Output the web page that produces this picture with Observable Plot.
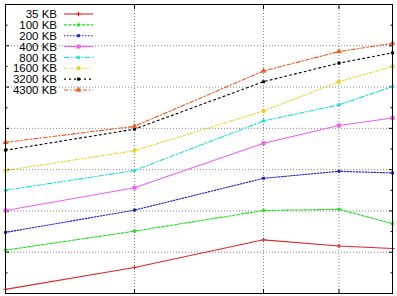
<!DOCTYPE html>
<html>
<head>
<meta charset="utf-8">
<script src="https://cdn.jsdelivr.net/npm/d3@7"></script>
<script src="https://cdn.jsdelivr.net/npm/@observablehq/plot@0.6"></script>
<style>
  html, body { margin: 0; padding: 0; background: #fff; }
  #wrap { position: relative; width: 397px; height: 296px; }
  #wrap svg { position: absolute; left: 0; top: 0; }
</style>
</head>
<body>
<div id="wrap"></div>
<script>
// x values (log scale)
const threads = [1, 2, 4, 6, 8];
const seriesNames = ["35 KB", "100 KB", "200 KB", "400 KB", "800 KB", "1600 KB", "3200 KB", "4300 KB"];
const s35   = [0.10, 0.63, 1.30, 1.15, 1.09];
const s100  = [1.05, 1.51, 2.01, 2.04, 1.69];
const s200  = [1.48, 2.02, 2.79, 2.96, 2.92];
const s400  = [2.01, 2.56, 3.64, 4.07, 4.25];
const s800  = [2.50, 2.98, 4.18, 4.57, 5.01];
const s1600 = [2.98, 3.46, 4.42, 5.13, 5.50];
const s3200 = [3.47, 3.98, 5.13, 5.58, 5.83];
const s4300 = [3.66, 4.05, 5.39, 5.86, 6.06];
const seriesValues = [s35, s100, s200, s400, s800, s1600, s3200, s4300];
const xGrid = [2, 4, 6];
const yGrid = [1, 2, 3, 4, 5, 6];
const yMinor = [0.5, 1.5, 2.5, 3.5, 4.5, 5.5, 6.5];

const styles = [
  {color: "#e02828", dash: null,        symbol: "plus",     r: 1.5},
  {color: "#22e022", dash: "3,1.5",     symbol: "square",   r: 1.5},
  {color: "#1c1cc8", dash: "1.5,1.5",   symbol: "square",   r: 1.5},
  {color: "#f060f0", dash: null,        symbol: "square",   r: 2.1},
  {color: "#20e0e0", dash: "5,2,1.5,2", symbol: "circle",   r: 1.6},
  {color: "#f0d020", dash: "2,2,1,2",   symbol: "circle",   r: 2.0},
  {color: "#000000", dash: "2,3",       symbol: "square",   r: 1.5},
  {color: "#f05a1e", dash: "4,2,1.5,2", symbol: "triangle", r: 2.0}
];

const rows = [];
seriesNames.forEach((name, i) => {
  threads.forEach((t, j) => rows.push({series: name, idx: i, x: t, y: seriesValues[i][j]}));
});

const noText = () => "";
const marks = [
  Plot.gridX(xGrid, {stroke: "#888", strokeOpacity: 1, strokeDasharray: "1,2"}),
  Plot.gridY(yGrid, {stroke: "#888", strokeOpacity: 1, strokeDasharray: "1,2"}),
  Plot.axisY(yGrid,  {anchor: "left",  tickSize: 4,   dx: 4,    tickFormat: noText, label: null, stroke: "#000"}),
  Plot.axisY(yGrid,  {anchor: "right", tickSize: 4,   dx: -4,   tickFormat: noText, label: null, stroke: "#000"}),
  Plot.axisY(yMinor, {anchor: "left",  tickSize: 2.5, dx: 2.5,  tickFormat: noText, label: null, stroke: "#000"}),
  Plot.axisY(yMinor, {anchor: "right", tickSize: 2.5, dx: -2.5, tickFormat: noText, label: null, stroke: "#000"}),
  Plot.axisX(xGrid,  {anchor: "bottom", tickSize: 4,  dy: -4,   tickFormat: noText, label: null, stroke: "#000"}),
  Plot.axisX(xGrid,  {anchor: "top",    tickSize: 4,  dy: 4,    tickFormat: noText, label: null, stroke: "#000"})
];
seriesNames.forEach((name, i) => {
  const st = styles[i];
  const data = rows.filter(d => d.idx === i);
  marks.push(Plot.line(data, {x: "x", y: "y", stroke: st.color, strokeWidth: 1.1, strokeDasharray: st.dash}));
  marks.push(Plot.dot(data, {x: "x", y: "y", symbol: () => st.symbol, r: st.r,
    fill: st.symbol === "plus" ? "none" : st.color, stroke: st.color, strokeWidth: st.symbol === "plus" ? 1 : 0.3}));
});
marks.push(Plot.frame({stroke: "#000", strokeWidth: 1}));

const chart = Plot.plot({
  width: 397,
  height: 296,
  marginLeft: 5,
  marginRight: 5,
  marginTop: 4,
  marginBottom: 3,
  x: {type: "log", domain: [1, 8], axis: null},
  y: {domain: [0, 7], axis: null},
  symbol: {type: "identity"},
  style: {background: "#fff"},
  marks
});
document.getElementById("wrap").appendChild(chart);

// Legend overlay (inside plot, top-left)
const leg = d3.select("#wrap").append("svg")
  .attr("width", 397).attr("height", 296)
  .style("pointer-events", "none");
const sym = {plus: d3.symbolPlus, square: d3.symbolSquare, circle: d3.symbolCircle, triangle: d3.symbolTriangle};
seriesNames.forEach((name, i) => {
  const st = styles[i];
  const y = 14 + i * 10.85;
  leg.append("text").attr("x", 57).attr("y", y).attr("dy", "0.36em")
    .attr("text-anchor", "end")
    .attr("font-family", "'Liberation Sans', Arial, sans-serif")
    .attr("font-size", 11.5).attr("fill", "#000").text(name);
  leg.append("line").attr("x1", 64).attr("x2", 93).attr("y1", y).attr("y2", y)
    .attr("stroke", st.color).attr("stroke-width", 1.1)
    .attr("stroke-dasharray", st.dash);
  const area = Math.PI * st.r * st.r;
  leg.append("path").attr("transform", `translate(78.5,${y})`)
    .attr("d", d3.symbol(sym[st.symbol], area)())
    .attr("fill", st.symbol === "plus" ? "none" : st.color)
    .attr("stroke", st.color).attr("stroke-width", st.symbol === "plus" ? 1 : 0.3);
});
</script>
</body>
</html>
